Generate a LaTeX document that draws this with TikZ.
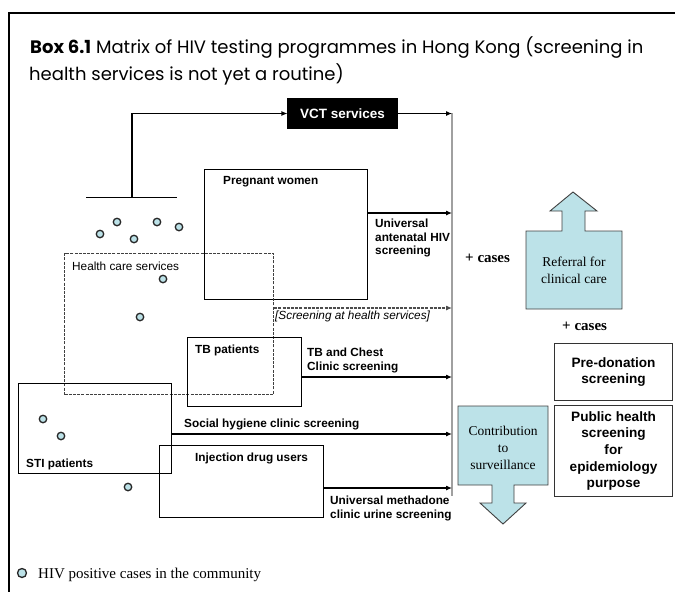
\documentclass[tikz,border=0pt]{standalone}
\usepackage{fontspec}
\setmainfont{Liberation Serif}
\newfontfamily\arial{Liberation Sans}
\newfontfamily\geo{Poppins}
\usetikzlibrary{arrows.meta}
\definecolor{paleblue}{RGB}{188,226,232}
\definecolor{railgray}{RGB}{160,160,160}

\begin{document}
\begin{tikzpicture}[x=1pt,y=-1pt,
  grp/.style={draw, line width=1.1pt, inner sep=0pt, anchor=north west},
  hcbox/.style={grp, draw=black!75, dash pattern=on 3pt off 1.2pt},
  lbl/.style={font=\arial\fontsize{11.8}{13.6}\selectfont\bfseries, inner sep=0pt, anchor=base west, align=left},
  feed/.style={-{Latex[length=6pt,width=5pt]}, line width=1.1pt},
  case/.style={circle, draw=black!85, fill=paleblue, line width=1.3pt, minimum size=7.5pt, inner sep=0pt},
  bigarrow/.style={draw=black!75, fill=paleblue, line width=0.9pt},
  sidebox/.style={draw=black!80, line width=1.1pt, inner sep=0pt, anchor=north west,
    font=\arial\fontsize{13.6}{16.6}\selectfont\bfseries, align=center},
  serif/.style={font=\fontsize{13.5}{17}\selectfont, align=center, inner sep=0pt},
  plus/.style={font=\fontsize{15}{17}\selectfont\bfseries, inner sep=0pt, anchor=base west},
  heading/.style={inner sep=0pt, anchor=base west, font=\geo\fontsize{18}{20}\selectfont}
]
\useasboundingbox (0,0) rectangle (675,592);

% frame of the box
\draw[line width=2pt] (675,13) -- (9,13) -- (9,592);

% heading
\node[heading] (head1) at (30,53)
  {\textbf{Box 6.1} Matrix of HIV testing programmes in Hong Kong (screening in};
\node[heading] (head2) at (29,80)
  {health services is not yet a routine)};

% collecting rail on the right
\coordinate (railtop) at (452,113);
\coordinate (railbot) at (452,496);
\draw[railgray, line width=2pt] (railtop) -- (railbot);
\coordinate (r1) at (452,213);
\coordinate (r2) at (452,308);
\coordinate (r3) at (452,377);
\coordinate (r4) at (452,434);
\coordinate (r5) at (452,488);

% voluntary counselling and testing
\node[grp, fill=black, minimum width=109pt, minimum height=29pt, text=white,
  font=\arial\fontsize{13.5}{15}\selectfont\bfseries, anchor=center] (vct) at (342.5,113.5) {VCT services};
\coordinate (barL) at (86,197);
\coordinate (barR) at (177,197);
\coordinate (barM) at (132,197);
\draw[line width=1pt] (barL) -- (barR);
\draw[feed] (barM) |- (vct.west);
\draw[feed] (vct.east) -- (vct.east -| railtop);

% population groups
\node[grp, minimum width=163pt, minimum height=130pt] (pw) at (204,169) {};
\node[hcbox, minimum width=209pt, minimum height=141pt] (hc) at (64,253) {};
\node[grp, minimum width=114pt, minimum height=69pt] (tb) at (187,337) {};
\node[grp, minimum width=153pt, minimum height=90pt] (sti) at (18,383) {};
\node[grp, minimum width=164pt, minimum height=72pt] (idu) at (159,445) {};

\node[lbl] (pwl) at (223,184) {Pregnant women};
\node[lbl, font=\arial\fontsize{11.8}{13.6}\selectfont] (hcl) at (72,270) {Health care services};
\node[lbl] (tbl) at (195,353) {TB patients};
\node[lbl] (stil) at (26,467) {STI patients};
\node[lbl] (idul) at (195,461) {Injection drug users};

% screening programmes feeding the rail
\draw[feed] (pw.east |- r1) -- (r1);
\draw[feed, dash pattern=on 3pt off 1.2pt, draw=black!70] (hc.east |- r2) -- (r2);
\draw[feed] (tb.east |- r3) -- (r3);
\draw[feed] (sti.east |- r4) -- (r4);
\draw[feed] (idu.east |- r5) -- (r5);

\node[lbl, anchor=north west] (pws) at (375,219) {Universal\\antenatal HIV\\screening};
\node[lbl, anchor=base west, font=\arial\itshape\fontsize{11.8}{13.6}\selectfont] (hcs) at (275,319) {[Screening at health services]};
\node[lbl, anchor=north west] (tbs) at (307,348) {TB and Chest\\Clinic screening};
\node[lbl] (stis) at (184,427) {Social hygiene clinic screening};
\node[lbl, anchor=north west] (idus) at (330,496) {Universal methadone\\clinic urine screening};

% HIV positive cases
\foreach \px/\py [count=\k] in {100/234, 117/222, 134/239, 157/222, 179/227, 163/279,
    140/317, 43/419, 61/436, 128/487}
  \node[case] (hiv\k) at (\px,\py) {};

% outcomes
\node[plus] (cases1) at (465,262) {+ cases};
\node[plus] (cases2) at (562,330) {+ cases};
\draw[bigarrow] (526,231) -- (562,231) -- (562,211) -- (550,211) -- (573,192) -- (597,211)
  -- (585,211) -- (585,231) -- (622,231) -- (622,309) -- (526,309) -- cycle;
\node[serif] (referral) at (574,270) {Referral for\\clinical care};
\draw[bigarrow] (458,406) -- (548,406) -- (548,485) -- (514,485) -- (514,503) -- (526,503)
  -- (503,524) -- (480,503) -- (492,503) -- (492,485) -- (458,485) -- cycle;
\node[serif] (surv) at (503,448) {Contribution\\to\\surveillance};

\node[sidebox, minimum width=118pt, minimum height=57pt] (predon) at (554,343) {Pre-donation\\screening};
\node[sidebox, minimum width=118pt, minimum height=91pt] (pubh) at (554,405) {Public health\\screening\\for\\epidemiology\\purpose};

% legend
\node[case, minimum size=9pt] (legcase) at (22,573) {};
\node[inner sep=0pt, anchor=base west, font=\fontsize{15}{17}\selectfont] (legtext) at (38,578) {HIV positive cases in the community};
\end{tikzpicture}
\end{document}
